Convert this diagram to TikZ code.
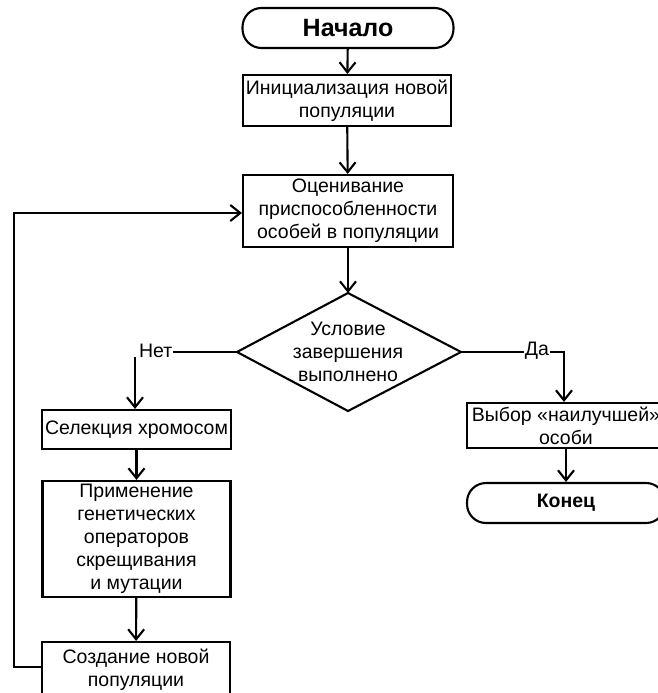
\documentclass[tikz,border=0pt]{standalone}
\usepackage{fontspec}
\setmainfont{Liberation Sans}
\usetikzlibrary{arrows.meta}
\begin{document}
\begin{tikzpicture}[x=1pt,y=-1pt,line width=2.1pt,
  txt/.style={font=\fontsize{19.5}{23}\selectfont},
  box/.style={draw,rectangle,inner sep=0pt,align=center,txt},
  term/.style={draw,rectangle,rounded corners=19pt,inner sep=0pt},
  lbl/.style={inner sep=0pt,txt},
  arr/.style={-{Straight Barb[length=10pt,width=16pt]}}]
\useasboundingbox (0,0) rectangle (658,693);
\clip (0,0) rectangle (658,693);
\fill[white] (0,0) rectangle (658,693);
\node[term,minimum width=211pt,minimum height=40pt,font=\fontsize{25}{28}\bfseries\selectfont] (start) at (348,28) {Начало};
\node[box,minimum width=208pt,minimum height=51pt] (init) at (347,100.5) {Инициализация новой\\популяции};
\node[box,minimum width=210pt,minimum height=72pt] (eval) at (348,211) {Оценивание\\приспособленности\\особей в популяции};
\coordinate (ctop) at (348,293);
\coordinate (cbot) at (348,411);
\coordinate (cleft) at (237,352);
\coordinate (cright) at (461,352);
\draw[line join=miter] (ctop) -- (cright) -- (cbot) -- (cleft) -- cycle;
\node[align=center,txt,inner sep=0pt] (cond) at (348,352) {Условие\\завершения\\выполнено};
\node[lbl,anchor=west] (net) at (138,351) {Нет};
\node[lbl] (da) at (537,351) {Да};
\node[box,minimum width=189pt,minimum height=39pt] (sel) at (136.5,429.5) {Селекция хромосом};
\node[box,minimum width=188pt,minimum height=116pt] (app) at (136.5,539) {Применение\\генетических\\операторов\\скрещивания\\и мутации};
\node[box,minimum width=188pt,minimum height=56pt] (cre) at (136,670) {Создание новой\\популяции};
\node[box,minimum width=198pt,minimum height=45pt] (best) at (566,425.5) {Выбор «наилучшей»\\особи};
\node[term,minimum width=198pt,minimum height=40pt,font=\fontsize{19.5}{23}\bfseries\selectfont] (fin) at (566,503) {Конец};
\coordinate (netdown) at (135,357);
\coordinate (daturn) at (564,352);
\coordinate (loopbot) at (14,667);
\coordinate (looptop) at (14,213);
\draw[arr] (start) -- (init);
\draw[arr] (init) -- (eval);
\draw[arr] (eval.south) -- (ctop);
\draw (cleft) -- (net.east |- cleft);
\draw[arr] (netdown) -- (netdown |- sel.north);
\draw (cright) -- (da.west |- cright);
\draw[arr] (da.east |- daturn) -- (daturn) -- (daturn |- best.north);
\draw[arr] (sel) -- (app);
\draw[arr] (app) -- (cre);
\draw[arr] (best) -- (best |- fin.north);
\draw[arr] (cre.west |- loopbot) -- (loopbot) -- (looptop) -- (eval.west |- looptop);
\end{tikzpicture}
\end{document}
